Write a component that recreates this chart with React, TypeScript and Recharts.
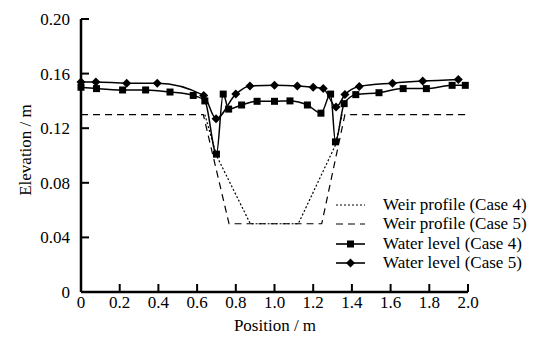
import { LineChart, Line, XAxis, YAxis, Legend, Label } from "recharts";

// weir profiles (x in m, y = elevation in m)
const weirCase4 = [
  { x: 0.64, y: 0.13 },
  { x: 0.7, y: 0.1 },
  { x: 0.875, y: 0.05 },
  { x: 1.123, y: 0.05 },
  { x: 1.313, y: 0.107 },
  { x: 1.35, y: 0.13 },
];

const weirCase5 = [
  { x: 0, y: 0.13 },
  { x: 0.632, y: 0.13 },
  { x: 0.765, y: 0.05 },
  { x: 1.244, y: 0.05 },
  { x: 1.364, y: 0.13 },
  { x: 2.0, y: 0.13 },
];

// measured water levels
const waterCase4 = [
  { x: 0, y: 0.15 },
  { x: 0.08, y: 0.149 },
  { x: 0.215, y: 0.148 },
  { x: 0.334, y: 0.148 },
  { x: 0.46, y: 0.1465 },
  { x: 0.58, y: 0.144 },
  { x: 0.64, y: 0.14 },
  { x: 0.7, y: 0.101 },
  { x: 0.735, y: 0.145 },
  { x: 0.763, y: 0.134 },
  { x: 0.83, y: 0.137 },
  { x: 0.91, y: 0.1397 },
  { x: 1.0, y: 0.1397 },
  { x: 1.08, y: 0.14 },
  { x: 1.17, y: 0.137 },
  { x: 1.24, y: 0.131 },
  { x: 1.29, y: 0.145 },
  { x: 1.315, y: 0.11 },
  { x: 1.36, y: 0.138 },
  { x: 1.42, y: 0.1446 },
  { x: 1.54, y: 0.146 },
  { x: 1.665, y: 0.149 },
  { x: 1.785, y: 0.149 },
  { x: 1.918, y: 0.1514 },
  { x: 1.986, y: 0.1514 },
];

const waterCase5 = [
  { x: 0, y: 0.1538 },
  { x: 0.077, y: 0.1538 },
  { x: 0.236, y: 0.153 },
  { x: 0.394, y: 0.153 },
  { x: 0.634, y: 0.144 },
  { x: 0.698, y: 0.127 },
  { x: 0.8, y: 0.145 },
  { x: 0.873, y: 0.151 },
  { x: 1.0, y: 0.1514 },
  { x: 1.118, y: 0.151 },
  { x: 1.2, y: 0.15 },
  { x: 1.252, y: 0.149 },
  { x: 1.318, y: 0.1355 },
  { x: 1.364, y: 0.1446 },
  { x: 1.438, y: 0.1506 },
  { x: 1.61, y: 0.153 },
  { x: 1.766, y: 0.1545 },
  { x: 1.95, y: 0.1557 },
];

const xTicks = [0, 0.2, 0.4, 0.6, 0.8, 1.0, 1.2, 1.4, 1.6, 1.8, 2.0];
const yTicks = [0, 0.04, 0.08, 0.12, 0.16, 0.2];

const legendItems = [
  { label: "Weir profile (Case 4)", dash: "2 2", marker: "" },
  { label: "Weir profile (Case 5)", dash: "7 5", marker: "" },
  { label: "Water level (Case 4)", dash: "", marker: "square" },
  { label: "Water level (Case 5)", dash: "", marker: "diamond" },
];

const FONT = "Times New Roman, Liberation Serif, DejaVu Serif, serif";

const SquareDot = (props: any) => {
  const { cx, cy } = props;
  if (cx == null || cy == null) return <g key={props.key} />;
  return <rect key={props.key} x={cx - 3.5} y={cy - 3.5} width={7} height={7} fill="#000" />;
};

const DiamondDot = (props: any) => {
  const { cx, cy } = props;
  if (cx == null || cy == null) return <g key={props.key} />;
  const r = 4.5;
  return (
    <polygon
      key={props.key}
      points={`${cx},${cy - r} ${cx + r},${cy} ${cx},${cy + r} ${cx - r},${cy}`}
      fill="#000"
    />
  );
};

const LegendBox = () => (
  <div style={{ fontFamily: FONT, fontSize: 17, color: "#000" }}>
    {legendItems.map((it) => (
      <div key={it.label} style={{ display: "flex", alignItems: "center", height: 19.5 }}>
        <svg width={48} height={12} style={{ marginRight: 5 }}>
          <line
            x1={6}
            y1={6}
            x2={35}
            y2={6}
            stroke="#000"
            strokeWidth={it.dash ? 1.2 : 1.6}
            strokeDasharray={it.dash || undefined}
          />
          {it.marker === "square" && <rect x={17} y={2.5} width={7} height={7} fill="#000" />}
          {it.marker === "diamond" && <polygon points="20.5,1.5 25,6 20.5,10.5 16,6" fill="#000" />}
        </svg>
        <span>{it.label}</span>
      </div>
    ))}
  </div>
);

export default function App() {
  return (
    <div style={{ position: "absolute", left: 0, top: 0, background: "#fff" }}>
      <LineChart width={544} height={342} margin={{ top: 19, right: 76, bottom: 0, left: 0 }}>
        <XAxis
          dataKey="x"
          type="number"
          domain={[0, 2]}
          ticks={xTicks}
          tickFormatter={(v: number) => (v === 0 ? "0" : v.toFixed(1))}
          height={50}
          tickSize={-8}
          tickMargin={12}
          axisLine={{ stroke: "#000", strokeWidth: 2.5 }}
          tickLine={{ stroke: "#000", strokeWidth: 2 }}
          tick={{ fill: "#000", fontSize: 17, fontFamily: FONT }}
        >
          <Label
            content={() => (
              <text x={275} y={331} textAnchor="middle" fontSize={17} fontFamily={FONT} fill="#000">
                Position / m
              </text>
            )}
          />
        </XAxis>
        <YAxis
          type="number"
          domain={[0, 0.2]}
          ticks={yTicks}
          tickFormatter={(v: number) => (v === 0 ? "0" : v.toFixed(2))}
          width={81}
          tickSize={-8}
          tickMargin={19}
          axisLine={{ stroke: "#000", strokeWidth: 2.5 }}
          tickLine={{ stroke: "#000", strokeWidth: 2 }}
          tick={{ fill: "#000", fontSize: 17, fontFamily: FONT }}
        >
          <Label
            content={() => (
              <text
                x={25}
                y={150}
                transform="rotate(-90 25 150)"
                textAnchor="middle"
                dominantBaseline="central"
                fontSize={17}
                fontFamily={FONT}
                fill="#000"
              >
                Elevation / m
              </text>
            )}
          />
        </YAxis>
        <Legend
          layout="horizontal"
          verticalAlign="middle"
          align="center"
          wrapperStyle={{ left: 330, top: 195, width: 214 }}
          content={() => <LegendBox />}
        />
        <Line
          data={weirCase4}
          dataKey="y"
          name="Weir profile (Case 4)"
          type="linear"
          stroke="#000"
          strokeWidth={1.2}
          strokeDasharray="2 2"
          dot={false}
          isAnimationActive={false}
        />
        <Line
          data={weirCase5}
          dataKey="y"
          name="Weir profile (Case 5)"
          type="linear"
          stroke="#000"
          strokeWidth={1.2}
          strokeDasharray="7 5"
          dot={false}
          isAnimationActive={false}
        />
        <Line
          data={waterCase4}
          dataKey="y"
          name="Water level (Case 4)"
          type="monotone"
          stroke="#000"
          strokeWidth={1.5}
          dot={SquareDot}
          isAnimationActive={false}
        />
        <Line
          data={waterCase5}
          dataKey="y"
          name="Water level (Case 5)"
          type="monotone"
          stroke="#000"
          strokeWidth={1.5}
          dot={DiamondDot}
          isAnimationActive={false}
        />
      </LineChart>
    </div>
  );
}
